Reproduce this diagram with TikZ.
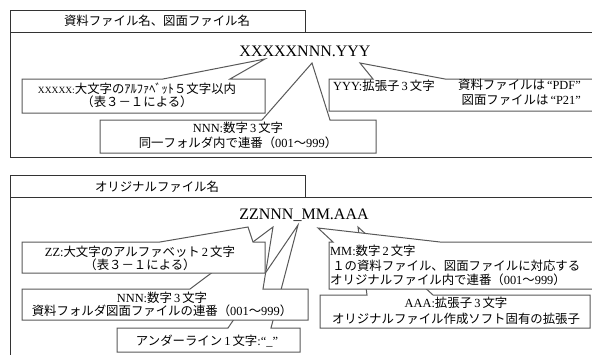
\documentclass[tikz,border=0pt]{standalone}
\usepackage{fontspec}
\setmainfont{Noto Sans CJK JP}
\newfontfamily\tmfont{Liberation Serif}
\newcommand\tmx[1]{{\tmfont #1}}
\tikzset{
  callout/.style={draw=black!65, line width=1pt, fill=white, line join=miter},
  frameline/.style={draw=black!80, line width=0.9pt},
  jp/.style={inner sep=0pt, font=\fontsize{12.4}{14}\selectfont, align=center},
  big/.style={inner sep=0pt, font=\tmfont\fontsize{16}{18}\selectfont},
}
\begin{document}
\begin{tikzpicture}[x=1pt,y=-1pt]
\clip (0,0) rectangle (592,354);
\fill[white] (0,0) rectangle (592,354);

% ---------- top section ----------
\draw[frameline] (10,32) -- (10,10) -- (305,10) -- (305,32);
\draw[frameline] (600,32) -- (10,32) -- (10,157) -- (600,157);
\node[jp] (t1) at (157,21) {資料ファイル名、図面ファイル名};
\node[big] (n1) at (305,51) {XXXXXNNN.YYY};

\coordinate (tipN1) at (312,63);
\coordinate (tipX) at (265,59);
\coordinate (tipY) at (360,63);

% NNN box (top)
\draw[callout] (100,120) -- (262,120) -- (tipN1) -- (330,120) -- (376,120) -- (376,153) -- (100,153) -- cycle;
\node[jp, font=\fontsize{12.4}{15}\selectfont] (b2) at (238,135.5)
  {\tmx{NNN:}数字\,\tmx{3}\,文字\\同一フォルダ内で連番（\tmx{001}～\tmx{999}）};

% XXXXX box
\draw[callout] (22,79) -- (163,79) -- (tipX) -- (230,79) -- (265,79) -- (265,113) -- (22,113) -- cycle;
\node[jp, font=\fontsize{12.4}{13}\selectfont] (b1) at (137,95.5)
  {{\tmfont\fontsize{9.5}{13}\selectfont XXXXX:}大文字のｱﾙﾌｧﾍﾞｯﾄ５文字以内\\（表３－１による）};

% YYY box
\draw[callout] (329,79) -- (373,79) -- (tipY) -- (445,79) -- (600,79) -- (600,111) -- (329,111) -- cycle;
\node[jp, anchor=west] (b3a) at (333,85.5) {\tmx{YYY:}拡張子\,\tmx{3}\,文字};
\node[jp, anchor=east, align=right, font=\fontsize{12.4}{15}\selectfont] (b3b) at (581,92.5)
  {資料ファイルは\,\tmx{“PDF”}\\図面ファイルは\,\tmx{“P21”}};

% ---------- bottom section ----------
\draw[frameline] (10,197) -- (10,175) -- (305,175) -- (305,197);
\draw[frameline] (600,197) -- (10,197) -- (10,360);
\node[jp] (t2) at (157,187) {オリジナルファイル名};
\node[big] (n2) at (304,215) {ZZNNN\_MM.AAA};

\coordinate (tipU) at (298,225);
\coordinate (tipN2) at (273,227);
\coordinate (tipZ) at (248,227);
\coordinate (tipA) at (358,227);
\coordinate (tipM) at (318,228);

% underscore box
\draw[callout] (117,328) -- (228,328) -- (tipU) -- (271,328) -- (300,328) -- (300,352) -- (117,352) -- cycle;
\node[jp] (bc) at (207,341) {アンダーライン\,\tmx{1}\,文字\tmx{:“\_”}};

% NNN box (bottom)
\draw[callout] (22,289) -- (190,289) -- (tipN2) -- (263,289) -- (308,289) -- (308,320) -- (22,320) -- cycle;
\node[jp, font=\fontsize{12.4}{13}\selectfont] (bb) at (162,304.5)
  {\tmx{NNN:}数字\,\tmx{3}\,文字\\資料フォルダ図面ファイルの連番（\tmx{001}～\tmx{999}）};

% ZZ box
\draw[callout] (22,242) -- (160,242) -- (tipZ) -- (253,242) -- (265,242) -- (265,273) -- (22,273) -- cycle;
\node[jp, font=\fontsize{12.4}{13}\selectfont] (ba) at (140,258.5)
  {\tmx{ZZ:}大文字のアルファベット\,\tmx{2}\,文字\\（表３－１による）};

% AAA box
\draw[callout] (320,295) -- (367,295) -- (tipA) -- (433,295) -- (590,295) -- (590,328) -- (320,328) -- cycle;
\node[jp, font=\fontsize{12.4}{16}\selectfont] (be) at (456,310.5)
  {\tmx{AAA:}拡張子\,\tmx{3}\,文字\\オリジナルファイル作成ソフト固有の拡張子};

% MM box
\draw[callout] (329,242) -- (333,242) -- (tipM) -- (440,242) -- (600,242) -- (600,289) -- (329,289) -- cycle;
\node[jp, anchor=west, align=left, font=\fontsize{12.4}{14.5}\selectfont] (bd) at (330,265.5)
  {\tmx{MM:}数字\,\tmx{2}\,文字\\\,１の資料ファイル、図面ファイルに対応する\\オリジナルファイル内で連番（\tmx{001}～\tmx{999}）};
\end{tikzpicture}
\end{document}
